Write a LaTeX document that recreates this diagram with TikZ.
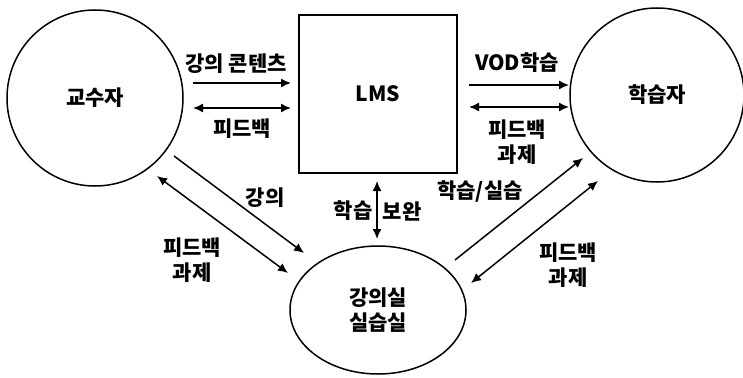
\documentclass[tikz,border=0pt]{standalone}
\usepackage{fontspec}
\newfontfamily\kr{Noto Sans CJK KR}
\usetikzlibrary{arrows.meta,shapes.geometric}
\begin{document}
\begin{tikzpicture}[x=1pt,y=-1pt,
  font=\kr\bfseries\fontsize{21}{25}\selectfont,
  ent/.style={draw, line width=1.5pt, inner sep=0pt, align=center},
  ar/.style={line width=1.5pt, -{Latex[length=10pt,width=9pt]}},
  dar/.style={line width=1.5pt, {Latex[length=10pt,width=9pt]}-{Latex[length=10pt,width=9pt]}},
  lbl/.style={align=center, inner sep=0pt}]
\useasboundingbox (0,0) rectangle (743,377);
\fill[white] (0,0) rectangle (743,377);
\node[ent, circle, minimum size=176pt] (prof) at (95,98) {교수자};
\node[ent, minimum width=158pt, minimum height=158pt] (lms) at (378,94) {LMS};
\node[ent, circle, minimum size=174pt] (stud) at (657,95) {학습자};
\node[ent, ellipse, minimum width=176pt, minimum height=128pt] (room) at (378,310) {강의실\\실습실};

\coordinate (a1s) at (193,83); \coordinate (a1e) at (291,83);
\coordinate (a2s) at (193,108); \coordinate (a2e) at (291,108);
\coordinate (b1s) at (469,85); \coordinate (b1e) at (569,85);
\coordinate (b2s) at (469,107); \coordinate (b2e) at (569,107);
\coordinate (c1s) at (174,156); \coordinate (c1e) at (304,253);
\coordinate (c2s) at (157,176); \coordinate (c2e) at (288,273);
\coordinate (d1s) at (377,181); \coordinate (d1e) at (377,239);
\coordinate (e1s) at (455,260); \coordinate (e1e) at (583,158);
\coordinate (e2s) at (471,283); \coordinate (e2e) at (598,181);

\draw[ar] (a1s) -- (a1e);
\draw[dar] (a2s) -- (a2e);
\draw[ar] (b1s) -- (b1e);
\draw[dar] (b2s) -- (b2e);
\draw[ar] (c1s) -- (c1e);
\draw[dar] (c2s) -- (c2e);
\draw[dar] (d1s) -- (d1e);
\draw[ar] (e1s) -- (e1e);
\draw[dar] (e2s) -- (e2e);

\node[lbl] (l1) at (236,64) {강의 콘텐츠};
\node[lbl] (l2) at (242,129) {피드백};
\node[lbl] (l3) at (517,63) {VOD학습};
\node[lbl] (l4) at (517,142) {피드백\\과제};
\node[lbl] (l5) at (265,198) {강의};
\node[lbl] (l6) at (192,260) {피드백\\과제};
\node[lbl] (l7) at (353,211) {학습};
\node[lbl] (l8) at (402,211) {보완};
\node[lbl] (l9) at (480,192) {학습/실습};
\node[lbl] (l10) at (568,265) {피드백\\과제};
\end{tikzpicture}
\end{document}
